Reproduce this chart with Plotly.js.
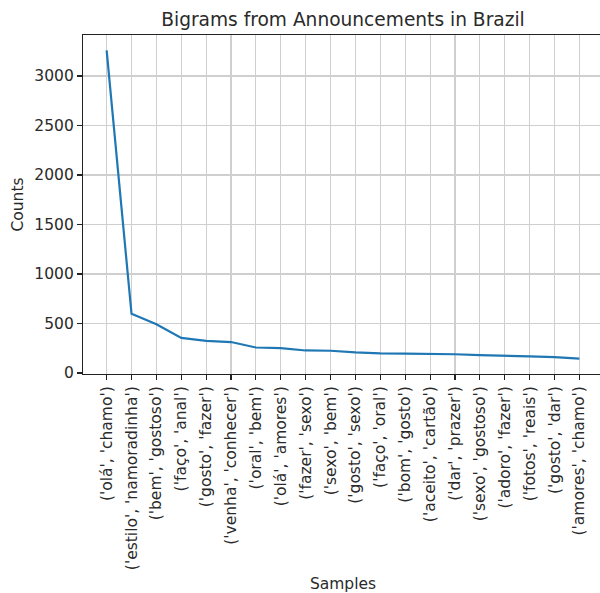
<!DOCTYPE html>
<html>
<head>
<meta charset="utf-8">
<script src="https://cdn.plot.ly/plotly-3.0.1.min.js"></script>
<style>
html, body { margin: 0; padding: 0; overflow: hidden; background: #fff; width: 600px; height: 593px; }
#chart { width: 610px; height: 593px; }
</style>
</head>
<body>
<div id="chart"></div>
<script>
const samples = [
  "('olá', 'chamo')",
  "('estilo', 'namoradinha')",
  "('bem', 'gostoso')",
  "('faço', 'anal')",
  "('gosto', 'fazer')",
  "('venha', 'conhecer')",
  "('oral', 'bem')",
  "('olá', 'amores')",
  "('fazer', 'sexo')",
  "('sexo', 'bem')",
  "('gosto', 'sexo')",
  "('faço', 'oral')",
  "('bom', 'gosto')",
  "('aceito', 'cartão')",
  "('dar', 'prazer')",
  "('sexo', 'gostoso')",
  "('adoro', 'fazer')",
  "('fotos', 'reais')",
  "('gosto', 'dar')",
  "('amores', 'chamo')"
];
const counts = [3258, 598, 493, 355, 325, 313, 258, 252, 228, 225, 208, 198, 196, 195, 190, 181, 177, 168, 161, 146];
const yTicks = [0, 500, 1000, 1500, 2000, 2500, 3000];

const idx = samples.map((_, i) => i);
const font = "DejaVu Sans, sans-serif";
const fs = 15.5;

const trace = {
  x: idx,
  y: counts,
  type: 'scatter',
  mode: 'lines',
  line: { color: '#1f77b4', width: 2.2 },
  hoverinfo: 'skip'
};

const axisCommon = {
  showgrid: true,
  gridcolor: '#cfcfcf',
  gridwidth: 1.1,
  zeroline: false,
  showline: true,
  linecolor: '#222',
  linewidth: 1.1,
  mirror: true,
  ticks: 'outside',
  ticklen: 5,
  tickwidth: 1.1,
  tickcolor: '#222',
  tickfont: { family: font, size: fs, color: '#2a2a2a' },
  automargin: false
};

const layout = {
  width: 610,
  height: 593,
  margin: { l: 83, r: 6.5, t: 35, b: 218.7 },
  paper_bgcolor: '#fff',
  plot_bgcolor: '#fff',
  showlegend: false,
  title: {
    text: 'Bigrams from Announcements in Brazil',
    font: { family: font, size: 18.6, color: '#2a2a2a' },
    x: 0.5, xref: 'paper', xanchor: 'center',
    y: 1 - 19 / 593, yref: 'container', yanchor: 'middle'
  },
  xaxis: Object.assign({}, axisCommon, {
    range: [-0.95, samples.length - 1 + 0.95],
    tickmode: 'array',
    tickvals: idx,
    ticktext: samples,
    tickangle: -90,
    title: { text: 'Samples', font: { family: font, size: fs, color: '#2a2a2a' }, standoff: 9 }
  }),
  yaxis: Object.assign({}, axisCommon, {
    range: [-9.6, 3413.6],
    tickmode: 'array',
    tickvals: yTicks,
    ticktext: yTicks.map(String),
    title: { text: 'Counts', font: { family: font, size: fs, color: '#2a2a2a' }, standoff: 6 }
  })
};

Plotly.newPlot('chart', [trace], layout, { displayModeBar: false, staticPlot: true });
</script>
</body>
</html>
